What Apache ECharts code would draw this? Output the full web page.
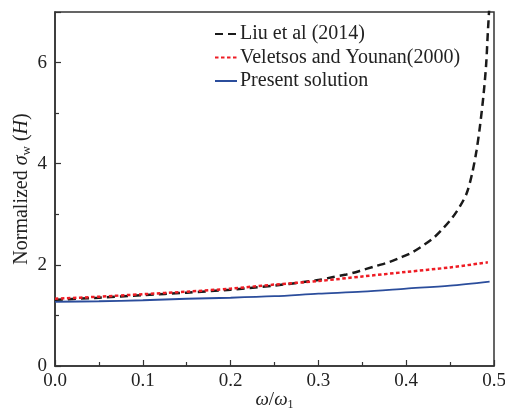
<!DOCTYPE html>
<html><head><meta charset="utf-8">
<script src="https://cdn.jsdelivr.net/npm/echarts@6/dist/echarts.min.js"></script>
<style>html,body{margin:0;padding:0;background:#fff}#c{width:505px;height:417px}</style>
</head><body><div id="c"></div>
<script>
const xTickLabels = ['0.0','0.1','0.2','0.3','0.4','0.5'];
const yTickLabels = ['0','2','4','6'];
const seriesNames = ['Liu et al (2014)','Veletsos and Younan(2000)','Present solution'];

const liuX = [0,0.05,0.1,0.15,0.2,0.25,0.283,0.3,0.317,0.332,0.347,0.364,0.38,0.393,0.406,0.419,0.431,0.442,0.452,0.461,0.469,0.475,0.48,0.484,0.488,0.491,0.493,0.495];
const liuY = [1.31,1.35,1.40,1.45,1.51,1.59,1.66,1.70,1.76,1.81,1.88,1.97,2.05,2.14,2.24,2.38,2.53,2.72,2.92,3.15,3.42,3.80,4.25,4.74,5.35,5.95,6.6,7.2];

const velX = [0,0.05,0.1,0.15,0.2,0.25,0.3,0.35,0.4,0.45,0.493];
const velY = [1.33,1.37,1.42,1.47,1.53,1.61,1.68,1.77,1.86,1.95,2.05];

const preX = [0,0.05,0.1,0.15,0.2,0.25,0.3,0.35,0.4,0.45,0.495];
const preY = [1.27,1.28,1.30,1.33,1.35,1.38,1.43,1.47,1.53,1.59,1.67];

const zip = (a,b) => a.map((v,i)=>[v,b[i]]);
const FONT = 'Liberation Serif';
const chart = echarts.init(document.getElementById('c'), null, {renderer:'canvas'});
chart.setOption({
  animation:false,
  backgroundColor:'#fff',
  grid:{left:55,right:11,top:12,bottom:51,containLabel:false,outerBoundsMode:'none',show:true,borderColor:'#333',borderWidth:1.5,backgroundColor:'transparent'},
  legend:{
    orient:'vertical', left:209, top:19, itemWidth:22, itemHeight:3, itemGap:3.5,
    itemStyle:{opacity:0},
    textStyle:{fontFamily:FONT,fontSize:20,color:'#222',padding:[0,0,0,-2]},
    data: seriesNames.map(n=>({name:n}))
  },
  xAxis:{
    type:'value', min:0, max:0.5, interval:0.1,
    axisLine:{lineStyle:{color:'#333',width:1.5}},
    axisTick:{inside:true,length:6,lineStyle:{color:'#333',width:1.2}},
    minorTick:{show:true,splitNumber:2,length:4,lineStyle:{color:'#333',width:1.2}},
    splitLine:{show:false},
    axisLabel:{fontFamily:FONT,fontSize:19,color:'#222',margin:6,formatter:(v)=>xTickLabels[Math.round(v*10)]},
    name:'{i|ω}{n|/}{i|ω}{s|1}', nameLocation:'middle', nameGap:23, nameMoveOverlap:false,
    nameTextStyle:{fontFamily:FONT,fontSize:19,color:'#222',rich:{
      i:{fontFamily:FONT,fontSize:19,fontStyle:'italic',color:'#222'},
      n:{fontFamily:FONT,fontSize:19,color:'#222'},
      s:{fontFamily:FONT,fontSize:12,color:'#222',padding:[10,0,0,0]}
    }}
  },
  yAxis:{
    type:'value', min:0, max:7, interval:2,
    axisLine:{lineStyle:{color:'#333',width:1.5}},
    axisTick:{inside:true,length:6,lineStyle:{color:'#333',width:1.2}},
    minorTick:{show:true,splitNumber:2,length:4,lineStyle:{color:'#333',width:1.2}},
    splitLine:{show:false},
    axisLabel:{fontFamily:FONT,fontSize:19,color:'#222',margin:8,showMaxLabel:false,
      formatter:(v)=>{const i=yTickLabels.indexOf(String(v));return i>=0?yTickLabels[i]:'';}},
    name:'{n|Normalized }{i|σ}{s|w}{n| (}{i|H}{n|)}', nameLocation:'middle', nameGap:22, nameMoveOverlap:false,
    nameTextStyle:{fontFamily:FONT,fontSize:20,color:'#222',rich:{
      i:{fontFamily:FONT,fontSize:20,fontStyle:'italic',color:'#222'},
      n:{fontFamily:FONT,fontSize:20,color:'#222'},
      s:{fontFamily:FONT,fontSize:13,color:'#222',padding:[10,0,0,0]}
    }}
  },
  series:[
    {name:seriesNames[0],type:'line',smooth:0.3,symbol:'none',clip:true,data:zip(liuX,liuY),
     lineStyle:{color:'#1a1a1a',width:2.5,type:[8,5]},itemStyle:{color:'#1a1a1a'},z:3},
    {name:seriesNames[1],type:'line',smooth:0.3,symbol:'none',data:zip(velX,velY),
     lineStyle:{color:'#ee1c24',width:2.5,type:[3.5,2.5]},itemStyle:{color:'#ee1c24'},z:4},
    {name:seriesNames[2],type:'line',smooth:0.3,symbol:'none',data:zip(preX,preY),
     lineStyle:{color:'#2b4d9c',width:1.8},itemStyle:{color:'#2b4d9c'},z:2}
  ]
});
</script></body></html>
